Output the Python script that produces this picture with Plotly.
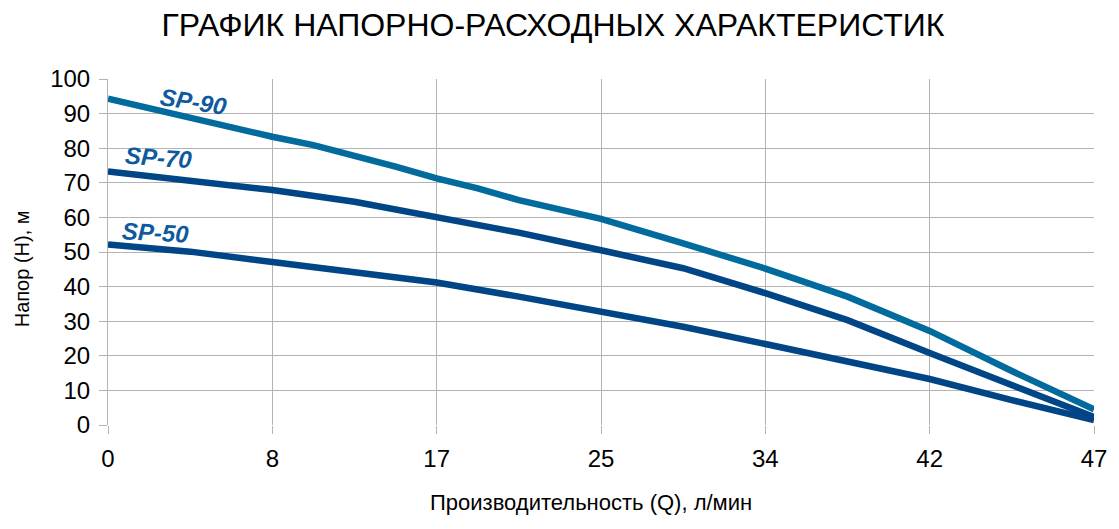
import plotly.graph_objects as go

# Category labels of the Q axis (l/min), evenly spaced
q_labels = ["0", "8", "17", "25", "34", "42", "47"]

# positions along the category axis (0 = first label, 6 = last label)
pos_90 = [0, 0.5, 1, 1.25, 1.5, 1.75, 2, 2.25, 2.5, 2.75, 3, 3.5, 4, 4.5, 5, 5.5, 6]
sp90 = [94.3, 88.6, 83.3, 80.9, 78.0, 74.7, 71.3, 68.4, 65.0, 62.3, 59.6, 52.5, 45.2, 37.1, 27.2, 15.6, 4.5]

pos_std = [0, 0.5, 1, 1.5, 2, 2.5, 3, 3.5, 4, 4.5, 5, 5.5, 6]
sp70 = [73.3, 70.8, 67.9, 64.5, 60.0, 55.6, 50.5, 45.3, 38.1, 30.3, 20.8, 11.6, 2.3]
sp50 = [52.2, 50.1, 47.1, 44.3, 41.2, 37.1, 32.9, 28.4, 23.4, 18.3, 13.3, 7.2, 1.4]

series = [
    ("SP-50", pos_std, sp50, "#004586"),
    ("SP-70", pos_std, sp70, "#004586"),
    ("SP-90", pos_90, sp90, "#006b9c"),
]

FONT = "Liberation Sans, Arial, sans-serif"

fig = go.Figure()
for name, xs, ys, col in series:
    fig.add_trace(go.Scatter(x=xs, y=ys, mode="lines", name=name,
                             line=dict(color=col, width=6.5), showlegend=False,
                             cliponaxis=False))

label_font = dict(family=FONT, size=24, color="#0e5a9e")
labels = [("<b><i>SP-90</i></b>", 0.52, 93.6, 9),
          ("<b><i>SP-70</i></b>", 0.31, 77.3, 4),
          ("<b><i>SP-50</i></b>", 0.29, 55.7, 3)]
for txt, x, y, ang in labels:
    fig.add_annotation(x=x, y=y, xref="x", yref="y", text=txt, showarrow=False,
                       textangle=ang, font=label_font)

# axis titles
fig.add_annotation(text="Производительность (Q), л/мин", xref="paper", yref="paper",
                   x=0.49, y=-0.225, xanchor="center", yanchor="middle", showarrow=False,
                   font=dict(family=FONT, size=22, color="#000000"))
fig.add_annotation(text="Напор (Н), м", xref="paper", yref="paper",
                   x=0, xshift=-86, y=0.45, xanchor="center", yanchor="middle",
                   textangle=-90, showarrow=False,
                   font=dict(family=FONT, size=20, color="#000000"))

fig.update_layout(
    width=1119, height=529,
    paper_bgcolor="white", plot_bgcolor="white",
    margin=dict(l=100, r=33, t=71, b=112),
    title=dict(text="ГРАФИК НАПОРНО-РАСХОДНЫХ ХАРАКТЕРИСТИК", x=0.487, xanchor="center",
               y=0.969, yanchor="middle",
               font=dict(family=FONT, size=32, color="#000000")),
    font=dict(family=FONT, color="#000000"),
)
fig.update_xaxes(
    range=[0, 6], tickmode="array", tickvals=list(range(len(q_labels))), ticktext=q_labels,
    showgrid=True, gridcolor="#b3b3b3", gridwidth=1,
    ticks="outside", ticklen=8, tickcolor="#b3b3b3",
    showline=False, zeroline=False, automargin=False,
    ticklabelstandoff=4,
    tickfont=dict(family=FONT, size=24, color="#000000"),
)
fig.update_yaxes(
    range=[0, 100], tickmode="linear", tick0=0, dtick=10,
    showgrid=True, gridcolor="#b3b3b3", gridwidth=1,
    ticks="outside", ticklen=8, tickcolor="#b3b3b3",
    showline=True, linecolor="#b3b3b3", zeroline=False, automargin=False,
    ticklabelstandoff=4,
    tickfont=dict(family=FONT, size=24, color="#000000"),
)

fig.write_html("out.html")
